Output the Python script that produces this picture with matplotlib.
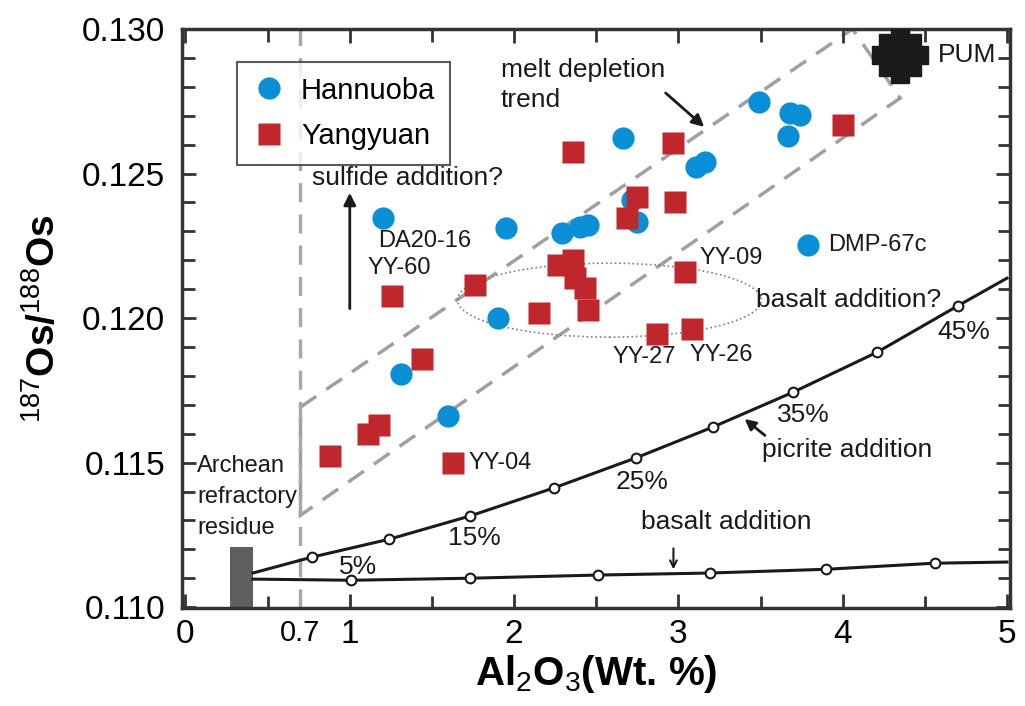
import matplotlib
matplotlib.use('Agg')
import matplotlib.pyplot as plt
from matplotlib.patches import Ellipse, Rectangle, Polygon

plt.rcParams['font.family'] = ['Liberation Sans', 'DejaVu Sans']
plt.rcParams['mathtext.fontset'] = 'custom'
plt.rcParams['mathtext.rm'] = 'Liberation Sans'
plt.rcParams['mathtext.bf'] = 'Liberation Sans:bold'

# Hannuoba samples (blue circles)
han_x = [1.20, 1.95, 2.29, 2.40, 2.45, 2.66, 2.72, 2.75, 3.11, 3.16, 3.49,
         3.67, 3.68, 3.74, 3.79, 1.90, 1.31, 1.60]
han_y = [0.12346, 0.1231, 0.12294, 0.12315, 0.12322, 0.12624, 0.12408, 0.12332,
         0.12522, 0.12540, 0.12747, 0.1263, 0.12709, 0.12702, 0.12253, 0.12000,
         0.11806, 0.11661]

# Yangyuan samples (red squares)
yy_x = [1.26, 1.76, 2.15, 2.27, 2.36, 2.37, 2.43, 2.45, 3.04, 2.87, 3.08,
        1.44, 1.18, 1.11, 0.88, 1.63, 2.36, 2.97, 2.75, 2.69, 2.98, 4.00]
yy_y = [0.12076, 0.12114, 0.12017, 0.12183, 0.12201, 0.12138, 0.12104, 0.12028,
        0.12159, 0.11945, 0.11962, 0.11858, 0.1163, 0.11599, 0.11523, 0.11498,
        0.12574, 0.12605, 0.12419, 0.12346, 0.1240, 0.12668]

pum_x, pum_y = 4.35, 0.1291

# mixing curves
pic_x = [0.41, 0.77, 1.24, 1.73, 2.24, 2.74, 3.21, 3.70, 4.21, 4.70, 5.0]
pic_y = [0.11118, 0.11173, 0.11235, 0.11315, 0.11412, 0.11516, 0.11623,
         0.11744, 0.11882, 0.12042, 0.12138]
bas_x = [0.41, 1.01, 1.73, 2.51, 3.19, 3.90, 4.56, 5.0]
bas_y = [0.11097, 0.11093, 0.11100, 0.11111, 0.11118, 0.11131, 0.11152, 0.11156]

# melt depletion field corners
trend_x = [0.7, 4.06, 4.35, 0.7]
trend_y = [0.11692, 0.13, 0.12761, 0.11318]

fig = plt.figure(figsize=(10.25, 7.06), dpi=100)
ax = fig.add_axes([0.1776, 0.1388, 0.808, 0.8201])

blue = '#0a8fd6'
red = '#c0272d'
ink = '#1a1a1a'
dash = (0, (5.5, 3.5))

ax.add_patch(Polygon(list(zip(trend_x, trend_y)), closed=True, fill=False,
                     ec='#a0a0a0', lw=2.5, ls=dash, zorder=1))
ax.axvline(0.7, color='#a8a8a8', lw=2.5, ls=dash, zorder=1)
ax.add_patch(Ellipse((2.58, 0.12062), 1.85, 0.00256, fill=False, ec='#808080',
                     lw=1.2, ls=':', zorder=1))
ax.add_patch(Rectangle((0.27, 0.110), 0.14, 0.00208, fc='#5f5f5f', ec='none', zorder=2))

ax.plot(pic_x, pic_y, color=ink, lw=2.2, zorder=3)
ax.plot(pic_x[1:-1], pic_y[1:-1], 'o', ms=7, mfc='white', mec=ink, mew=1.5, zorder=4)
ax.plot(bas_x, bas_y, color=ink, lw=2.2, zorder=3)
ax.plot(bas_x[1:-1], bas_y[1:-1], 'o', ms=7, mfc='white', mec=ink, mew=1.5, zorder=4)

ax.plot(han_x, han_y, 'o', ms=16, color=blue, mec='none', label='Hannuoba', zorder=5)
ax.plot(yy_x, yy_y, 's', ms=15.5, color=red, mec='none', label='Yangyuan', zorder=6)
ax.plot(pum_x, pum_y, 'P', ms=40, color=ink, zorder=7)
ax.plot(pum_x, pum_y, 's', ms=30, color=ink, zorder=7)

ax.set_xlim(-0.021, 5.02)
ax.set_ylim(0.10997, 0.130)
ax.set_xticks([0, 1, 2, 3, 4, 5])
ax.set_xticks([0.5, 1.5, 2.5, 3.5, 4.5], minor=True)
ax.set_yticks([0.110, 0.115, 0.120, 0.125, 0.130])
ax.set_yticks([0.111, 0.112, 0.113, 0.114, 0.116, 0.117, 0.118, 0.119, 0.121,
               0.122, 0.123, 0.124, 0.126, 0.127, 0.128, 0.129], minor=True)
ax.set_yticklabels(['0.110', '0.115', '0.120', '0.125', '0.130'])
ax.tick_params(which='both', direction='in', top=True, right=True, width=2,
               color='#333333', labelsize=24, pad=8)
ax.tick_params(which='major', length=10)
ax.tick_params(which='minor', length=9)
ax.tick_params(axis='y', pad=12)
for s in ax.spines.values():
    s.set_linewidth(2.5)
    s.set_color('#333333')

ax.text(0.7, 0.1091, '0.7', fontsize=21, ha='center', va='center', clip_on=False)

ax.set_xlabel(r'Al$_2$O$_3$(Wt. %)', fontsize=29, fontweight='bold', labelpad=2)
ax.set_ylabel(r'$^{187}$Os/$^{188}$Os', fontsize=28, fontweight='bold', labelpad=14)

leg = ax.legend(loc='upper left', bbox_to_anchor=(0.066, 0.943), borderaxespad=0,
                fontsize=21, frameon=True, fancybox=False, handletextpad=0.5,
                borderpad=0.5, labelspacing=0.6, handlelength=1.2)
leg.get_frame().set_edgecolor('#333333')
leg.get_frame().set_linewidth(1.5)

tk = dict(fontsize=19, color=ink)
sm = dict(fontsize=17, color=ink)
ax.text(1.92, 0.12806, 'melt depletion\ntrend', va='center', linespacing=1.35, **tk)
ax.annotate('', xy=(3.17, 0.12655), xytext=(2.91, 0.12785),
            arrowprops=dict(arrowstyle='-|>', color=ink, lw=2, mutation_scale=18))
ax.text(0.77, 0.12485, 'sulfide addition?', va='center', **tk)
ax.annotate('', xy=(1.0, 0.12443), xytext=(1.0, 0.12023),
            arrowprops=dict(arrowstyle='-|>', color=ink, lw=2, mutation_scale=18))
ax.text(1.17, 0.12266, 'DA20-16', va='center', **sm)
ax.text(1.11, 0.12173, 'YY-60', va='center', **sm)
ax.text(1.72, 0.11498, 'YY-04', va='center', **sm)
ax.text(3.13, 0.12208, 'YY-09', va='center', **sm)
ax.text(3.91, 0.12253, 'DMP-67c', va='center', **sm)
ax.text(3.47, 0.12062, 'basalt addition?', va='center', **tk)
ax.text(2.60, 0.11867, 'YY-27', va='center', **sm)
ax.text(3.07, 0.11874, 'YY-26', va='center', **sm)
ax.text(0.07, 0.11381, 'Archean\nrefractory\nresidue', va='center', linespacing=1.55, **sm)
ax.text(4.58, 0.1291, 'PUM', va='center', **tk)

ax.text(1.05, 0.11138, '5%', ha='center', va='center', **tk)
ax.text(1.76, 0.11239, '15%', ha='center', va='center', **tk)
ax.text(2.78, 0.11433, '25%', ha='center', va='center', **tk)
ax.text(3.76, 0.11664, '35%', ha='center', va='center', **tk)
ax.text(4.74, 0.11952, '45%', ha='center', va='center', **tk)

ax.text(3.51, 0.11543, 'picrite addition', va='center', **tk)
ax.annotate('', xy=(3.39, 0.11657), xytext=(3.54, 0.11588),
            arrowprops=dict(arrowstyle='-|>', color=ink, lw=2, mutation_scale=16))
ax.text(2.77, 0.11295, 'basalt addition', va='center', **tk)
ax.annotate('', xy=(2.97, 0.11121), xytext=(2.97, 0.11213),
            arrowprops=dict(arrowstyle='->', color=ink, lw=1.5, mutation_scale=12))

fig.savefig('out.png', dpi=100)
